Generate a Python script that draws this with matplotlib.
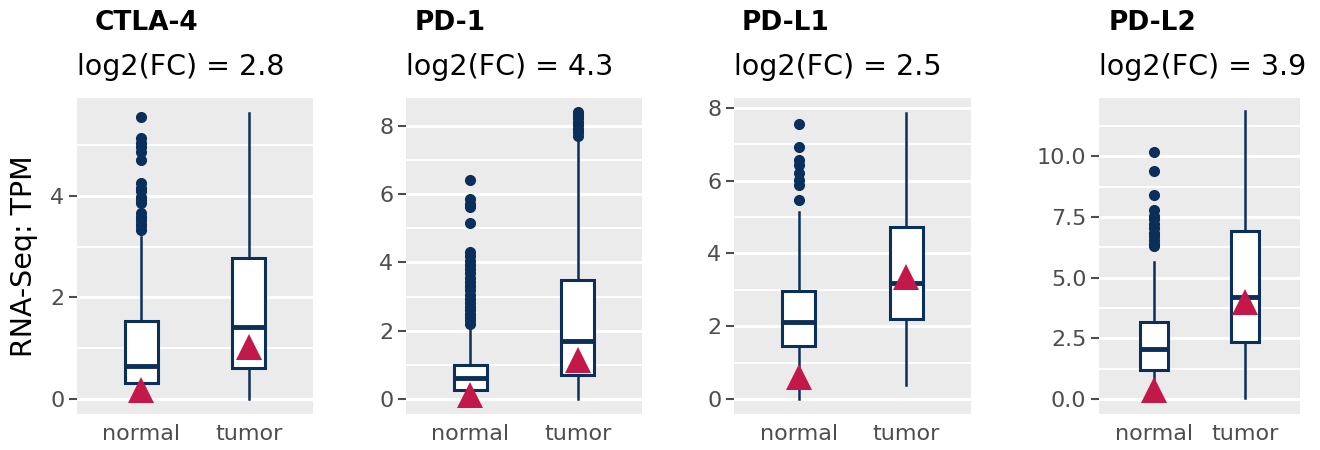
import numpy as np
import matplotlib
matplotlib.use("Agg")
import matplotlib.pyplot as plt
from matplotlib.ticker import MultipleLocator, FormatStrFormatter

# Genes e valores
genes = ["CTLA-4", "PD-1", "PD-L1", "PD-L2"]
log2fc = [2.8, 4.3, 2.5, 3.9]
grupos = ["normal", "tumor"]

# Estatísticas das caixas: [normal, tumor]
q1 = [[0.31, 0.60], [0.26, 0.70], [1.46, 2.20], [1.20, 2.36]]
mediana = [[0.64, 1.42], [0.61, 1.70], [2.13, 3.18], [2.06, 4.20]]
q3 = [[1.54, 2.78], [1.00, 3.49], [2.97, 4.73], [3.19, 6.92]]
bigode_inf = [[0.0, 0.0], [0.0, 0.0], [0.0, 0.40], [0.0, 0.05]]
bigode_sup = [[3.19, 5.63], [2.02, 7.65], [5.13, 7.85], [5.64, 11.87]]

# Valores do triângulo (vermelho) por grupo
triangulo = [[0.18, 1.03], [0.12, 1.14], [0.60, 3.35], [0.37, 3.98]]

# Outliers
outliers_normal = [
    [5.55, 5.14, 5.05, 4.97, 4.87, 4.71, 4.25, 4.15, 4.09, 3.98, 3.92, 3.86, 3.66, 3.58, 3.53, 3.45, 3.40, 3.33],
    [6.42, 5.85, 5.70, 5.62, 5.15, 4.30, 4.18, 4.05, 3.92, 3.80, 3.68, 3.55, 3.42, 3.30, 3.18, 3.05, 2.92,
     2.82, 2.70, 2.60, 2.50, 2.40, 2.30, 2.20],
    [7.55, 6.93, 6.57, 6.44, 6.20, 6.02, 5.88, 5.47],
    [10.19, 9.39, 8.40, 7.77, 7.55, 7.40, 7.20, 7.05, 6.85, 6.70, 6.55, 6.40, 6.30],
]
outliers_tumor = [
    [],
    [8.40, 8.32, 8.22, 8.12, 8.02, 7.92, 7.82, 7.72],
    [],
    [],
]

# Escalas do eixo y
y_lim = [(-0.3, 5.93), (-0.44, 8.82), (-0.41, 8.27), (-0.62, 12.4)]
y_passo = [2, 2, 2, 2.5]

# Posições dos painéis em pixels (esquerda, direita)
painel_px = [(77, 313), (406, 642), (734, 971), (1099, 1300)]
titulo_offset_px = [18, 9, 8, 10]

azul = "#0b2f5b"
vermelho = "#c2184a"
fundo = "#ebebeb"
cinza = "#4d4d4d"

W, H = 1320, 450
fig = plt.figure(figsize=(W / 100, H / 100), dpi=100)

topo_px, base_px = 98, 414

for i, gene in enumerate(genes):
    esq, dir_ = painel_px[i]
    ax = fig.add_axes([esq / W, 1 - base_px / H, (dir_ - esq) / W, (base_px - topo_px) / H])
    ax.set_facecolor(fundo)
    for s in ax.spines.values():
        s.set_visible(False)

    stats = []
    for j, g in enumerate(grupos):
        fl = outliers_normal[i] if j == 0 else outliers_tumor[i]
        stats.append({
            "med": mediana[i][j], "q1": q1[i][j], "q3": q3[i][j],
            "whislo": bigode_inf[i][j], "whishi": bigode_sup[i][j],
            "fliers": fl, "label": g,
        })

    ax.bxp(stats, positions=[1, 2], widths=0.31, patch_artist=True, showcaps=False,
           boxprops=dict(facecolor="white", edgecolor=azul, linewidth=2.2),
           medianprops=dict(color=azul, linewidth=3.5, solid_capstyle="butt"),
           whiskerprops=dict(color=azul, linewidth=1.8),
           flierprops=dict(marker="o", markerfacecolor=azul, markeredgecolor=azul, markersize=7),
           zorder=3)

    ax.plot([1, 2], triangulo[i], linestyle="none", marker="^", markersize=19,
            color=vermelho, markeredgewidth=0, zorder=5)

    ax.set_xlim(0.4, 2.6)
    ax.set_ylim(*y_lim[i])
    ax.yaxis.set_major_locator(MultipleLocator(y_passo[i]))
    ax.yaxis.set_minor_locator(MultipleLocator(y_passo[i] / 2))
    if y_passo[i] != int(y_passo[i]):
        ax.yaxis.set_major_formatter(FormatStrFormatter("%.1f"))
    else:
        ax.yaxis.set_major_formatter(FormatStrFormatter("%d"))

    ax.grid(which="major", axis="y", color="white", linewidth=2.2, zorder=0)
    ax.grid(which="minor", axis="y", color="white", linewidth=1.3, zorder=0)
    ax.set_axisbelow(True)

    ax.set_xticks([1, 2])
    ax.set_xticklabels(grupos)
    ax.tick_params(axis="x", length=0, pad=7, labelsize=16, labelcolor=cinza)
    ax.tick_params(axis="y", which="major", length=6, width=1.5, color=cinza, pad=3,
                   labelsize=16, labelcolor=cinza)
    ax.tick_params(axis="y", which="minor", length=0)

    largura = dir_ - esq
    ax.text(titulo_offset_px[i] / largura, 1 + (topo_px - 23) / (base_px - topo_px), gene,
            transform=ax.transAxes, fontsize=19, fontweight="bold", ha="left", va="center")
    ax.text(0.0, 1 + (topo_px - 67) / (base_px - topo_px), f"log2(FC) = {log2fc[i]}",
            transform=ax.transAxes, fontsize=20.5, ha="left", va="center")

    if i == 0:
        ax.set_ylabel("RNA-Seq: TPM", fontsize=20.5)
        ax.yaxis.set_label_coords(-0.165, 0.5)

fig.savefig("out.png", dpi=100)
